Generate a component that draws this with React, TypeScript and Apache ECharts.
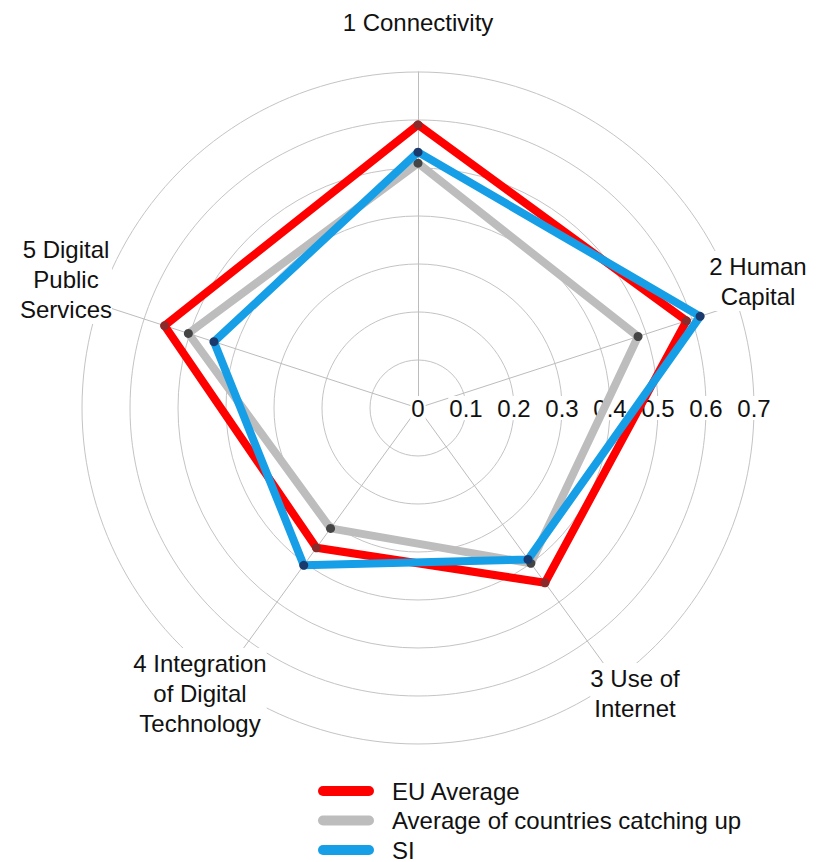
import React, { useEffect, useRef } from "react";
import * as echarts from "echarts";

// ---- data ----
const DIMENSIONS = [
  "1 Connectivity",
  "2 Human\nCapital",
  "3 Use of\nInternet",
  "4 Integration\nof Digital\nTechnology",
  "5 Digital\nPublic\nServices",
];
const SERIES_NAMES = ["EU Average", "Average of countries catching up", "SI"];
const EU_AVERAGE = [0.59, 0.588, 0.45, 0.36, 0.555];
const CATCHING_UP = [0.51, 0.482, 0.4, 0.31, 0.503];
const SI = [0.533, 0.618, 0.39, 0.405, 0.447];
const RING_MIN = 0;
const RING_MAX = 0.7;
const RING_STEP = 0.1;

// ---- styles / layout ----
const FONT = '"Liberation Sans", Arial, sans-serif';
const FONT_SIZE = 24;
const LINE_COLORS = ["#ff0000", "#bdbdbd", "#169fe6"];
const DOT_COLORS = ["#8a2a2a", "#444444", "#1a3a6e"];
const CENTER: [number, number] = [418, 408];
const RADIUS = 336;
const NAME_POS: [number, number][] = [
  [418, 22],
  [758, 281],
  [635, 693],
  [200, 693],
  [66, 279],
];

export default function App() {
  const ref = useRef<HTMLDivElement>(null);
  useEffect(() => {
    document.body.style.margin = "0";
    if (!ref.current) return;
    const chart = echarts.init(ref.current, null, { renderer: "svg" });
    // ECharts radar runs counter-clockwise; reorder so dimensions go clockwise from top
    const order = [0, 4, 3, 2, 1];
    const pick = (arr: number[]) => order.map((i) => arr[i]);
    const allValues = [EU_AVERAGE, CATCHING_UP, SI];

    chart.setOption({
      animation: false,
      backgroundColor: "#ffffff",
      textStyle: { fontFamily: FONT },
      radar: {
        center: CENTER,
        radius: RADIUS,
        startAngle: 90,
        shape: "circle",
        splitNumber: Math.round((RING_MAX - RING_MIN) / RING_STEP),
        indicator: order.map((i) => ({ name: DIMENSIONS[i], min: RING_MIN, max: RING_MAX })),
        axisName: { show: false },
        axisLine: { lineStyle: { color: "#bcbcbc", width: 1 } },
        splitLine: { lineStyle: { color: "#c4c4c4", width: 1 } },
        splitArea: { show: false },
        axisTick: { show: false },
        z: 0,
      },
      polar: { center: CENTER, radius: RADIUS, z: 1 },
      angleAxis: {
        startAngle: 0,
        min: 0,
        max: 360,
        show: false,
        axisLine: { show: false },
        splitLine: { show: false },
        axisLabel: { show: false },
        axisTick: { show: false },
      },
      radiusAxis: {
        type: "value",
        min: RING_MIN,
        max: RING_MAX,
        interval: RING_STEP,
        axisLine: { show: false },
        axisTick: { show: false },
        splitLine: { show: false },
        axisLabel: {
          margin: 0,
          align: "center",
          verticalAlign: "middle",
          fontSize: FONT_SIZE,
          fontFamily: FONT,
          color: "#111111",
          backgroundColor: "#ffffff",
          padding: [0, 1],
          formatter: (v: number) => String(Math.round(v * 10) / 10),
        },
        z: 1,
      },
      legend: {
        orient: "vertical",
        left: 318,
        top: 779,
        height: 120,
        padding: 0,
        itemWidth: 56,
        itemHeight: 11,
        itemGap: 5.5,
        icon: "path://M5,0 L51,0 A5,5 0 0 1 51,10 L5,10 A5,5 0 0 1 5,0 Z",
        textStyle: {
          fontSize: FONT_SIZE,
          fontFamily: FONT,
          color: "#111111",
          padding: [0, 0, 0, 13],
        },
        data: SERIES_NAMES.map((name, i) => ({
          name,
          itemStyle: { color: LINE_COLORS[i] },
        })),
      },
      graphic: DIMENSIONS.map((text, i) => ({
        type: "text",
        x: NAME_POS[i][0],
        y: NAME_POS[i][1],
        z: 10,
        style: {
          text,
          font: `${FONT_SIZE}px ${FONT}`,
          fill: "#111111",
          align: "center",
          verticalAlign: "middle",
          lineHeight: 30,
          backgroundColor: "#ffffff",
        },
      })),
      series: SERIES_NAMES.map((name, i) => ({
        type: "radar",
        name,
        z: 2 + i,
        symbol: "circle",
        symbolSize: 9,
        data: [
          {
            name,
            value: pick(allValues[i]),
            lineStyle: { color: LINE_COLORS[i], width: 8 },
            itemStyle: { color: DOT_COLORS[i] },
          },
        ],
      })),
    });
    return () => chart.dispose();
  }, []);
  return <div ref={ref} style={{ width: 823, height: 862 }} />;
}
